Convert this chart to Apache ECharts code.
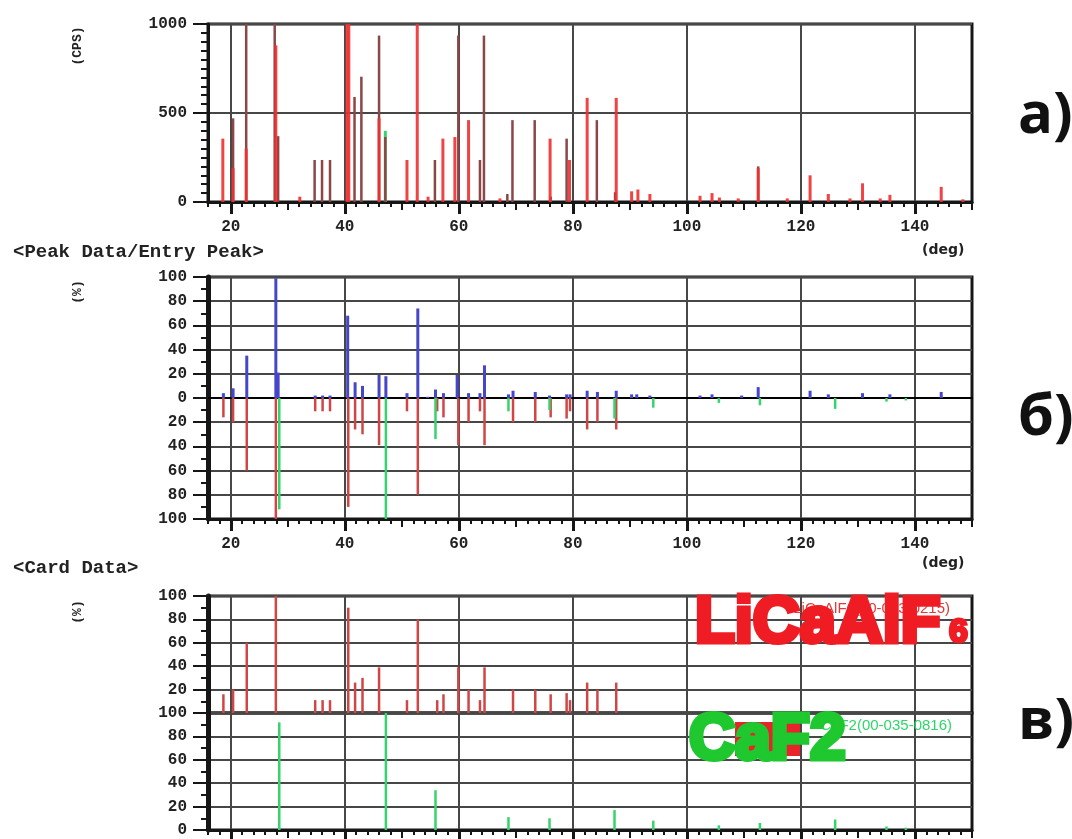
<!DOCTYPE html>
<html>
<head>
<meta charset="utf-8">
<script src="https://cdn.jsdelivr.net/npm/echarts@6/dist/echarts.min.js"></script>
<style>
html, body { margin: 0; padding: 0; background: #fff; }
#chart { width: 1072px; height: 839px; }
</style>
</head>
<body>
<div id="chart"></div>
<script>
// 2theta ticks (deg)
const degTicks = [20, 40, 60, 80, 100, 120, 140];
const degMidTicks = [30, 50, 70, 90, 110, 130, 150];

// a) measured pattern, CPS (clipped at 1000)
const scanPos = [18.6, 20.4, 22.7, 27.9, 32.1, 40.4, 40.7, 46.0, 50.9, 52.7, 54.6, 57.2, 59.3, 61.7, 67.2, 76.0, 79.4, 82.5, 87.6, 90.3, 91.4, 93.5, 102.3, 104.4, 105.7, 109.0, 112.5, 117.6, 121.6, 124.8, 128.6, 130.8, 133.9, 135.6, 144.6, 148.4];
const scanCps = [356, 190, 300, 880, 30, 1000, 1000, 470, 236, 1000, 30, 356, 365, 460, 20, 356, 236, 585, 585, 60, 70, 45, 35, 50, 25, 20, 190, 20, 150, 45, 20, 105, 20, 40, 85, 15];
// a) dark marker lines
const markPos = [20.4, 22.7, 27.7, 28.3, 34.7, 36.0, 37.4, 41.7, 42.9, 46.0, 47.1, 55.8, 59.9, 63.7, 64.4, 68.5, 69.4, 73.3, 76.1, 78.9, 84.2, 87.4, 112.5];
const markCps = [470, 1000, 1000, 370, 236, 236, 236, 590, 704, 935, 365, 236, 935, 236, 935, 45, 460, 460, 30, 356, 460, 55, 200];
const scanGreenPos = [47.1];
const scanGreenCps = [400];

// б) peak data, %
const peakPos = [18.7, 20.4, 22.8, 27.9, 28.3, 34.8, 36.1, 37.4, 40.5, 41.8, 43.1, 46.0, 47.2, 50.9, 52.8, 54.5, 55.9, 57.3, 59.7, 61.7, 63.7, 64.5, 68.7, 69.5, 73.4, 75.9, 78.9, 79.5, 82.5, 84.3, 87.6, 90.3, 91.2, 93.5, 102.3, 104.4, 109.6, 112.5, 121.6, 124.8, 130.8, 135.6, 144.6];
const peakInt = [4, 8, 35, 99, 21, 2, 2, 2, 68, 13, 10, 19, 18, 4, 74, 1, 7, 4, 19, 4, 4, 27, 3, 6, 5, 2, 3, 3, 6, 5, 6, 3, 3, 2, 2, 3, 2, 9, 6, 3, 4, 3, 5];

// в) card data, % (also the entry peaks drawn downward in б)
const licafPos = [18.7, 20.4, 22.8, 27.9, 34.8, 36.1, 37.4, 40.6, 41.8, 43.1, 46.0, 50.9, 52.8, 56.2, 57.3, 59.9, 61.7, 63.7, 64.5, 69.5, 73.4, 76.1, 78.9, 79.5, 82.5, 84.3, 87.6];
const licafInt = [16, 20, 60, 100, 11, 11, 11, 90, 26, 30, 39, 11, 80, 11, 16, 39, 20, 11, 39, 20, 20, 16, 17, 11, 26, 20, 26];
const caf2Pos = [28.5, 47.2, 55.9, 68.7, 75.9, 87.3, 94.1, 105.6, 112.8, 126.0, 135.0, 138.4];
const caf2Int = [92, 100, 34, 11, 10, 17, 8, 4, 6, 9, 3, 2];

const monoFont = '"Liberation Mono", "DejaVu Sans Mono", monospace';
const ink = '#161616';
const gridInk = '#474747';

function zip(xs, ys) {
    return xs.map((x, i) => [x, ys[i]]);
}

// vertical stick from 0 to value
function sticks(name, xi, yi, data, color, width, sign) {
    return {
        type: 'custom', name: name, xAxisIndex: xi, yAxisIndex: yi,
        data: data, silent: true, clip: true,
        renderItem: function (params, api) {
            const x = api.value(0);
            const p0 = api.coord([x, 0]);
            const p1 = api.coord([x, api.value(1) * sign]);
            return {
                type: 'line',
                shape: { x1: p0[0], y1: p0[1], x2: p1[0], y2: p1[1] },
                style: { stroke: color, lineWidth: width }
            };
        }
    };
}

function mainX(g, labels, ticks) {
    return {
        type: 'value', gridIndex: g, min: 16, max: 150, position: 'bottom',
        axisLine: { show: ticks, onZero: false, lineStyle: { color: ink, width: 3 } },
        axisTick: { show: ticks, customValues: degTicks, length: 12, lineStyle: { color: ink, width: 3 } },
        axisLabel: { show: labels, customValues: degTicks, margin: 17, fontFamily: monoFont, fontWeight: 'bold', fontSize: 16, color: '#222' },
        splitLine: { show: true, lineStyle: { color: gridInk, width: 2 } }
    };
}
function minorX(g) {
    return {
        type: 'value', gridIndex: g, min: 16, max: 150, interval: 2, position: 'bottom',
        axisLine: { show: false, onZero: false },
        axisTick: { show: true, length: 5, lineStyle: { color: ink, width: 2 } },
        axisLabel: { show: false }, splitLine: { show: false }
    };
}
function midX(g) {
    return {
        type: 'value', gridIndex: g, min: 16, max: 150, position: 'bottom',
        axisLine: { show: false, onZero: false },
        axisTick: { show: true, customValues: degMidTicks, length: 8, lineStyle: { color: ink, width: 2 } },
        axisLabel: { show: false }, splitLine: { show: false }
    };
}
function yAx(g, min, max, interval, minorSplit, lineW, fmt) {
    return {
        type: 'value', gridIndex: g, min: min, max: max, interval: interval,
        axisLine: { show: true, lineStyle: { color: ink, width: lineW } },
        axisTick: { show: true, length: 15, lineStyle: { color: ink, width: 2 } },
        minorTick: { show: true, splitNumber: minorSplit, length: 7, lineStyle: { color: ink, width: 2 } },
        axisLabel: { margin: 21, fontFamily: monoFont, fontWeight: 'bold', fontSize: 16, color: '#222', formatter: fmt },
        splitLine: { show: true, lineStyle: { color: gridInk, width: 2 } }
    };
}

const gridBox = { left: 208, width: 764, show: true, borderColor: ink, borderWidth: 3, containLabel: false };

const xAxes = [
    mainX(0, true, true), minorX(0), midX(0),
    mainX(1, true, true), minorX(1), midX(1),
    {
        type: 'value', gridIndex: 1, min: 16, max: 150,
        axisLine: { show: true, onZero: true, onZeroAxisIndex: 1, lineStyle: { color: '#000', width: 2 } },
        axisTick: { show: false }, axisLabel: { show: false }, splitLine: { show: false }
    },
    mainX(2, false, false),
    mainX(3, false, true), minorX(3), midX(3)
];

const yAxes = [
    yAx(0, 0, 1000, 500, 10, 3, v => v),
    yAx(1, -100, 100, 20, 2, 5, v => Math.abs(v)),
    yAx(2, 0, 100, 20, 2, 5, v => (v === 0 ? '' : v)),
    yAx(3, 0, 100, 20, 2, 5, v => v)
];

const red = 'rgba(238, 48, 48, 0.9)';
const dark = '#8c4646';
const green = '#36d46c';
const blue = '#4646c8';
const cardRed = '#d04646';

function label(text, x, y, font, color, extra) {
    return Object.assign({
        type: 'text', x: x, y: y, z: 100,
        style: { text: text, font: font, fill: color, align: 'left', verticalAlign: 'middle' }
    }, extra || {});
}
function heavy(text, x, y, size, color, stroke) {
    return {
        type: 'text', x: x, y: y, z: 100,
        style: {
            text: text, font: 'bold ' + size + 'px "Liberation Sans"', fill: color,
            stroke: color, lineWidth: stroke, align: 'left', verticalAlign: 'middle'
        }
    };
}
function vertical(text, x, y) {
    return {
        type: 'text', x: x, y: y, z: 100, rotation: Math.PI / 2,
        style: { text: text, font: 'bold 13px ' + monoFont, fill: '#222', align: 'center', verticalAlign: 'middle' }
    };
}

const chart = echarts.init(document.getElementById('chart'));
chart.setOption({
    animation: false,
    backgroundColor: '#fff',
    grid: [
        Object.assign({ top: 24, height: 178 }, gridBox),
        Object.assign({ top: 277, height: 242 }, gridBox),
        Object.assign({ top: 596, height: 117 }, gridBox),
        Object.assign({ top: 713, height: 117 }, gridBox)
    ],
    xAxis: xAxes,
    yAxis: yAxes,
    series: [
        sticks('scan-green', 0, 0, zip(scanGreenPos, scanGreenCps), green, 3, 1),
        sticks('marks', 0, 0, zip(markPos, markCps), dark, 2.5, 1),
        sticks('scan', 0, 0, zip(scanPos, scanCps), red, 3, 1),
        sticks('peak', 3, 1, zip(peakPos, peakInt), blue, 3, 1),
        sticks('entry-licaf', 3, 1, zip(licafPos, licafInt), cardRed, 2.5, -1),
        sticks('entry-caf2', 3, 1, zip(caf2Pos, caf2Int), green, 2.5, -1),
        sticks('card-licaf', 7, 2, zip(licafPos, licafInt), cardRed, 2.5, 1),
        sticks('card-caf2', 8, 3, zip(caf2Pos, caf2Int), green, 2.5, 1)
    ],
    graphic: [
        vertical('(CPS)', 78, 46),
        label('<Peak Data/Entry Peak>', 13, 252, 'bold 19px ' + monoFont, '#222'),
        label('(deg)', 922, 250, 'bold 14px "DejaVu Sans"', '#222'),
        vertical('(%)', 78, 292),
        label('<Card Data>', 13, 568, 'bold 19px ' + monoFont, '#222'),
        label('(deg)', 922, 563, 'bold 14px "DejaVu Sans"', '#222'),
        vertical('(%)', 78, 612),
        label('a)', 1018, 116, 'bold 58px "Open Sans"', '#111'),
        label('б)', 1018, 418, 'bold 58px "Open Sans"', '#111'),
        label('в)', 1018, 722, 'bold 58px "Open Sans"', '#111'),
        // phase labels
        {
            type: 'text', x: 950, y: 609, z: 100,
            style: { text: 'LiCaAlF6(00-043-0215)', font: '15px "Liberation Sans"', fill: '#e23a3a', align: 'right', verticalAlign: 'middle' }
        },
        heavy('LiCaAlF', 695, 624, 65, '#f01c24', 5),
        heavy('6', 949, 633, 34, '#f01c24', 3),
        { type: 'rect', z: 99, shape: { x: 735, y: 722, width: 65, height: 34 }, style: { fill: '#e8232a' } },
        {
            type: 'text', x: 952, y: 726, z: 100,
            style: { text: 'CaF2(00-035-0816)', font: '15px "Liberation Sans"', fill: '#2fd66a', align: 'right', verticalAlign: 'middle' }
        },
        heavy('CaF2', 689, 741, 64, '#1ec82e', 5)
    ]
});
</script>
</body>
</html>
